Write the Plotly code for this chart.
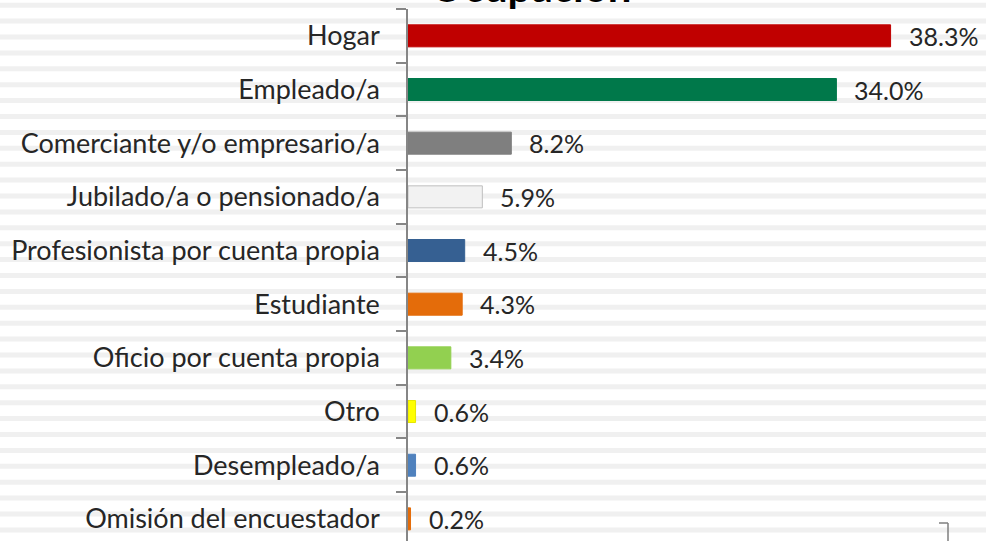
import plotly.graph_objects as go

# Occupation distribution (percent of respondents)
categories = [
    "Hogar",
    "Empleado/a",
    "Comerciante y/o empresario/a",
    "Jubilado/a o pensionado/a",
    "Profesionista por cuenta propia",
    "Estudiante",
    "Oficio por cuenta propia",
    "Otro",
    "Desempleado/a",
    "Omisión del encuestador",
]
values = [38.3, 34.0, 8.2, 5.9, 4.5, 4.3, 3.4, 0.6, 0.6, 0.2]
bar_colors = ["#c00000", "#00784a", "#7f7f7f", "#f2f2f2", "#366092",
              "#e46c0a", "#92d050", "#ffff00", "#4f81bd", "#e46c0a"]
line_colors = ["#c00000", "#00784a", "#7f7f7f", "#bfbfbf", "#366092",
               "#e46c0a", "#92d050", "#e6e600", "#4f81bd", "#e46c0a"]
title_text = "Ocupación"

W, H = 986, 541
L, T = 408, 9
plot_w, plot_h = W - L, H - T
px_per_unit = 12.6
slot = 53.67

fig = go.Figure(go.Bar(
    x=values,
    y=categories,
    orientation="h",
    marker=dict(color=bar_colors, line=dict(color=line_colors, width=1)),
    width=0.41,
    hoverinfo="skip",
))

# value labels to the right of each bar
annotations = []
for c, v in zip(categories, values):
    annotations.append(dict(
        x=v, y=c, xref="x", yref="y",
        text=f"{v:.1f}%", showarrow=False,
        xanchor="left", yanchor="middle", xshift=16, yshift=0,
        font=dict(family="Lato", size=25, color="#262626"),
    ))

# chart title (partly above the visible area)
annotations.append(dict(
    x=(531 - L) / plot_w, y=1, xref="paper", yref="paper",
    text=f"<b>{title_text}</b>", showarrow=False,
    xanchor="center", yanchor="bottom", yshift=-4,
    font=dict(family="Lato", size=42, color="#000000"),
))

# striped background
shapes = []
period, thick, y0 = 15.9, 5.0, 2.7
n = int((H - y0) / period) + 1
for k in range(n):
    top = y0 + k * period
    bot = min(top + thick, H)
    shapes.append(dict(
        type="rect", xref="paper", yref="paper", layer="below",
        x0=-L / plot_w, x1=1.0,
        y0=(H - bot) / plot_h, y1=(H - top) / plot_h,
        fillcolor="#f0f0f0", line=dict(width=0),
    ))

# small corner marker near the bottom right
cx, cy = 948, 523
shapes.append(dict(type="line", xref="paper", yref="paper",
                   x0=(cx - 9 - L) / plot_w, x1=(cx - L) / plot_w,
                   y0=(H - cy) / plot_h, y1=(H - cy) / plot_h,
                   line=dict(color="#7f7f7f", width=1.5)))
shapes.append(dict(type="line", xref="paper", yref="paper",
                   x0=(cx - L) / plot_w, x1=(cx - L) / plot_w,
                   y0=(H - cy) / plot_h, y1=0,
                   line=dict(color="#7f7f7f", width=1.5)))

visible_units = plot_h / slot

fig.update_layout(
    width=W, height=H,
    margin=dict(l=L, r=0, t=T, b=0, pad=0),
    paper_bgcolor="#ffffff",
    plot_bgcolor="rgba(0,0,0,0)",
    showlegend=False,
    bargap=0.59,
    annotations=annotations,
    shapes=shapes,
    xaxis=dict(
        range=[0, plot_w / px_per_unit],
        visible=False, fixedrange=True,
    ),
    yaxis=dict(
        type="category",
        categoryorder="array", categoryarray=categories,
        range=[-0.5 + visible_units, -0.5],
        showline=True, linecolor="#868686", linewidth=1.5,
        ticks="outside", tickson="boundaries", ticklen=10,
        tickcolor="#868686", tickwidth=1.5,
        ticklabelstandoff=21,
        showgrid=False, zeroline=False,
        tickfont=dict(family="Lato", size=27, color="#262626"),
        fixedrange=True,
    ),
)

fig.write_html("out.html", include_plotlyjs=True, config={"displayModeBar": False})
